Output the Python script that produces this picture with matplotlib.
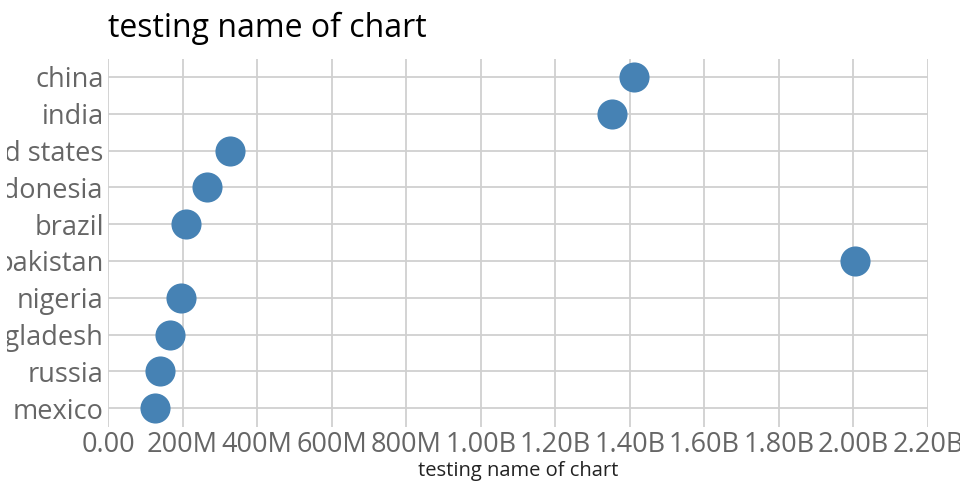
import matplotlib
matplotlib.use('Agg')
import matplotlib.pyplot as plt
from matplotlib.transforms import Bbox

plt.rcParams['font.family'] = ['Open Sans', 'DejaVu Sans']

# datos
paises = ['china', 'india', 'united states', 'indonesia', 'brazil',
          'pakistan', 'nigeria', 'bangladesh', 'russia', 'mexico']
poblacion = [1.411e9, 1.352e9, 0.327e9, 0.266e9, 0.209e9,
             2.004e9, 0.196e9, 0.166e9, 0.140e9, 0.126e9]

x_ticks = [0, 0.2e9, 0.4e9, 0.6e9, 0.8e9, 1.0e9, 1.2e9, 1.4e9, 1.6e9, 1.8e9, 2.0e9, 2.2e9]
x_labels = ['0.00', '200M', '400M', '600M', '800M', '1.00B', '1.20B',
            '1.40B', '1.60B', '1.80B', '2.00B', '2.20B']

titulo = 'testing name of chart'

fig = plt.figure(figsize=(9.6, 5), dpi=100)
ax = fig.add_axes([108/960, (500-426.5)/500, 820/960, 368/500])

y = list(range(len(paises)))
ax.scatter(poblacion, y, s=470, color='#4682b4', zorder=3, linewidths=0)

ax.set_xlim(0, 2.2e9)
ax.set_ylim(len(paises) - 0.5, -0.5)
ax.set_xticks(x_ticks)
ax.set_xticklabels(x_labels)
ax.set_yticks(y)
ax.set_yticklabels(paises)

ax.grid(True, color='#d0d0d0', linewidth=1.3, zorder=0)
for s in ax.spines.values():
    s.set_visible(False)
ax.tick_params(length=0, labelsize=19.5, labelcolor='#666666', pad=3)

# las etiquetas largas quedan recortadas por la izquierda como en el original
caja = Bbox.from_extents(7, 0, 960, 500)
for lbl in ax.get_yticklabels():
    lbl.set_clip_on(True)
    lbl.set_clip_box(caja)

ax.set_xlabel(titulo, fontsize=14.5, color='#222222', labelpad=2)
fig.text(108/960, 1 - 28/500, titulo, fontsize=23, color='black', va='center', ha='left')

fig.savefig('out.png', dpi=100)
